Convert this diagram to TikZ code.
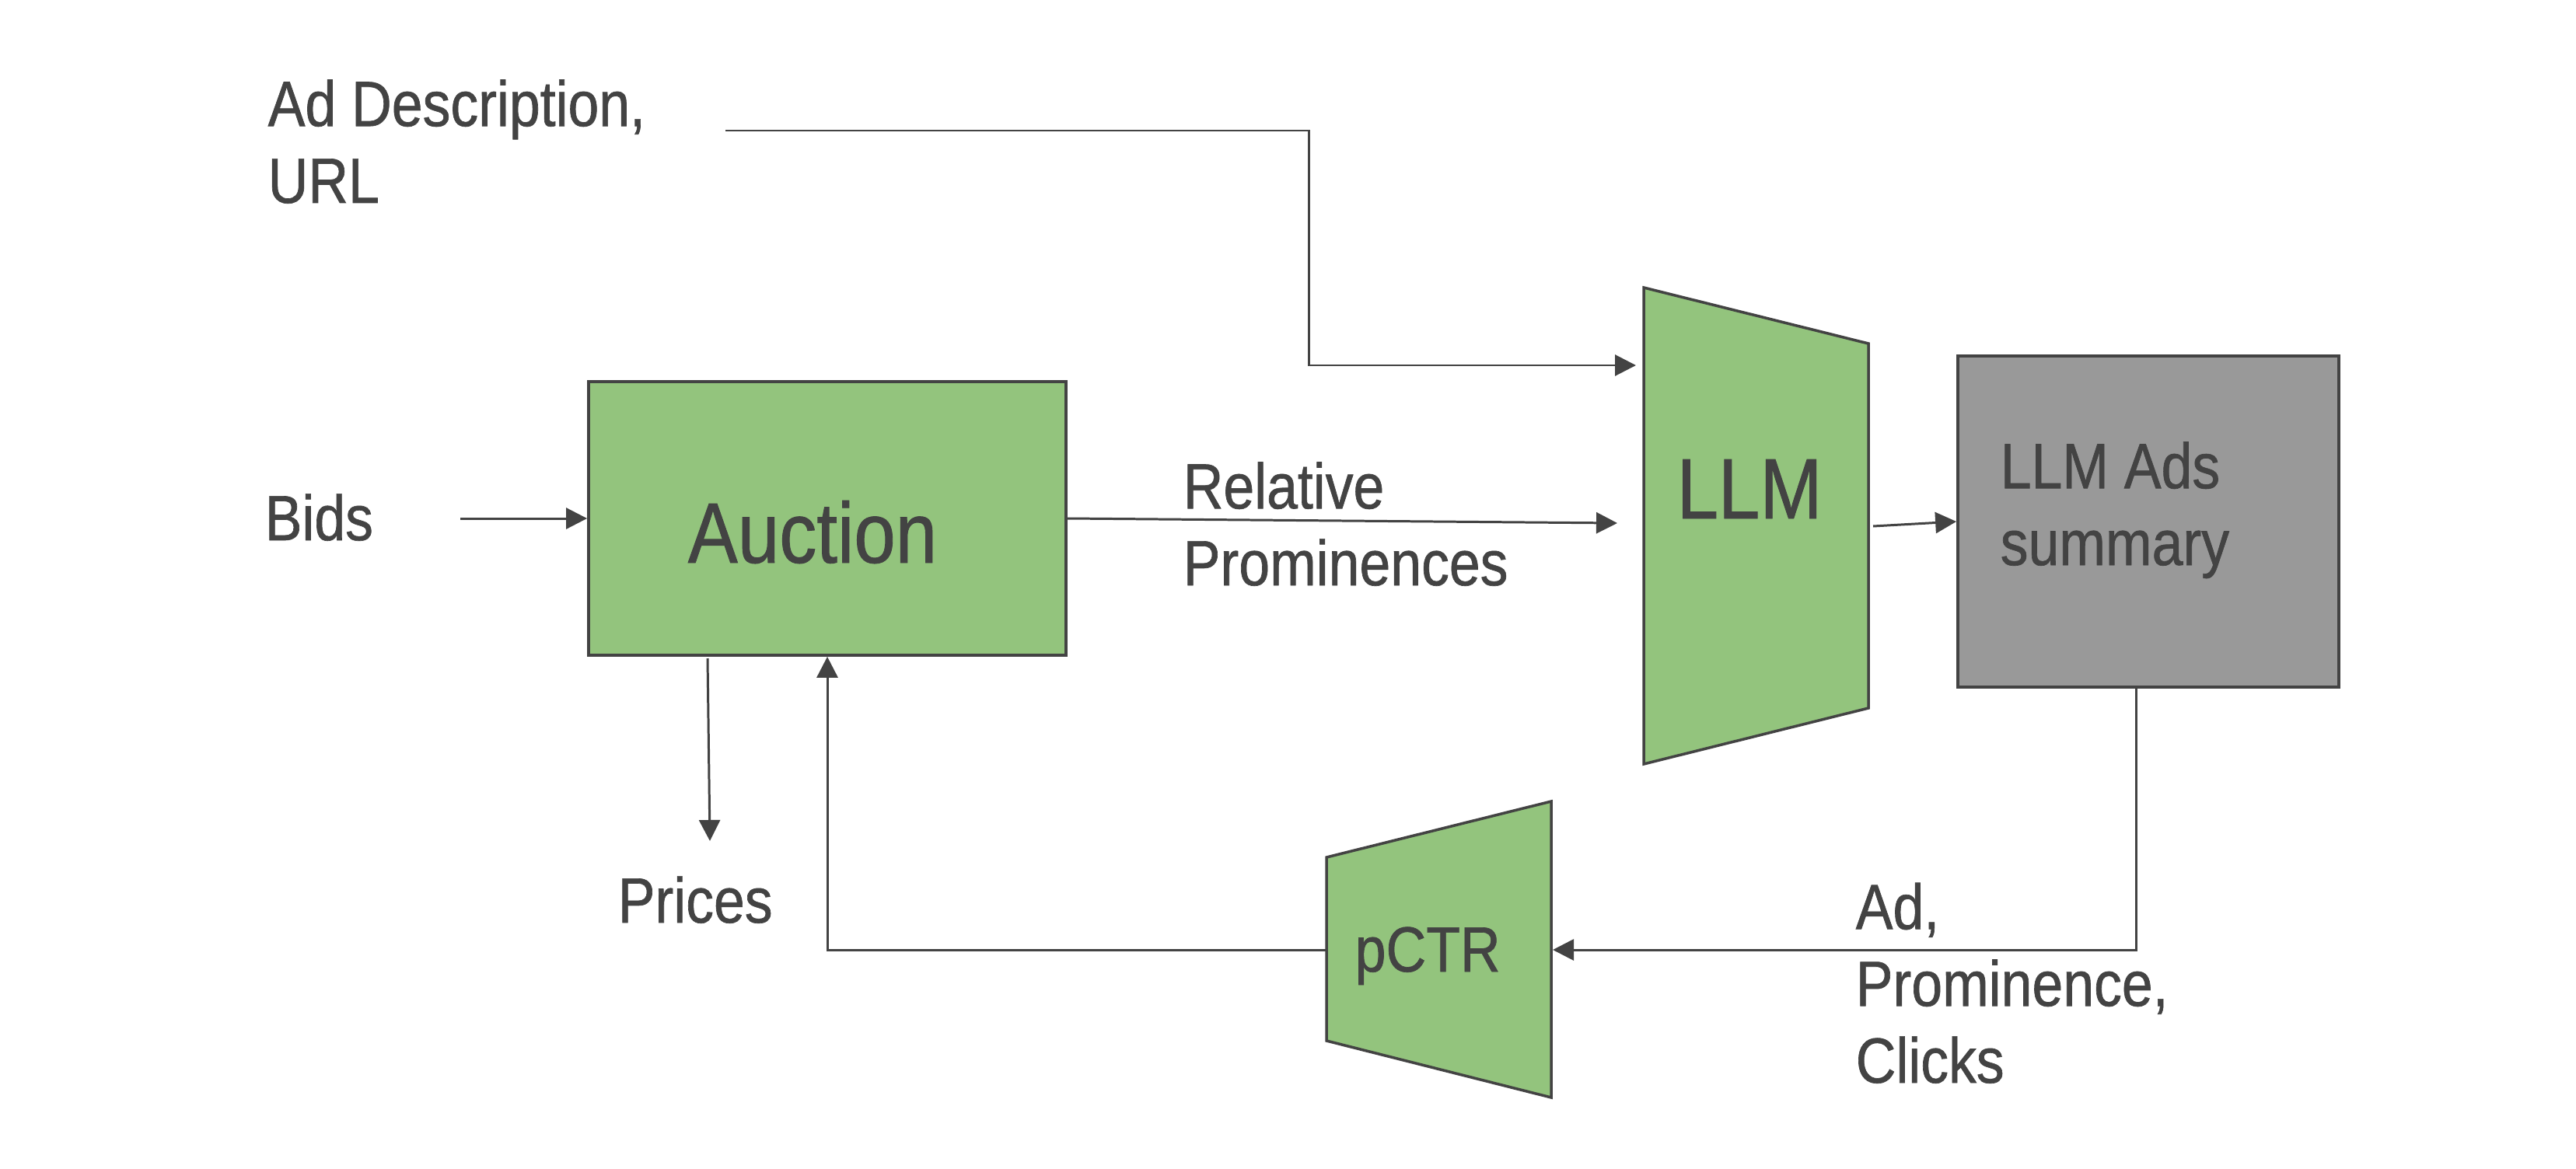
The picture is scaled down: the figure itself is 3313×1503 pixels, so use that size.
\documentclass[tikz,border=0pt]{standalone}
\usepackage{fontspec}
\setmainfont{Liberation Sans}[FakeStretch=0.87,FakeBold=0.8]
\usetikzlibrary{arrows.meta}
\definecolor{ink}{HTML}{434343}
\definecolor{boxgreen}{HTML}{93C47D}
\definecolor{boxgray}{HTML}{999999}
\begin{document}
\begin{tikzpicture}[x=0.01cm,y=-0.01cm,
  conn/.style={draw=ink, line width=0.85pt},
  arr/.style={conn,-{Triangle[length=0.27cm,width=0.27cm]}},
  shapebox/.style={draw=ink, line width=1pt},
  lbl/.style={text=ink, inner sep=0pt, anchor=base west, align=left, font=\fontsize{23.4}{28.1}\selectfont},
  big/.style={text=ink, inner sep=0pt, anchor=base, font=\fontsize{31.4}{36}\selectfont}]
\useasboundingbox (0,0) rectangle (3313,1503);

% blocks
\node[shapebox, fill=boxgreen, minimum width=6.14cm, minimum height=3.52cm, inner sep=0pt] (auction) at (1064,667) {};
\node[big] (auctiontxt) at (1045,724) {Auction};

\draw[shapebox, fill=boxgreen] (2114,370) -- (2403,442) -- (2403,911) -- (2114,983) -- cycle;
\node[big] (llmtxt) at (2250,667) {LLM};

\node[shapebox, fill=boxgray, minimum width=4.9cm, minimum height=4.26cm, inner sep=0pt] (summary) at (2763,671) {};
\node[lbl] (summarytxt) at (2572,727) {LLM Ads\\summary};

\draw[shapebox, fill=boxgreen] (1706,1103) -- (1995,1031) -- (1995,1412) -- (1706,1339) -- cycle;
\node[lbl] (pctrtxt) at (1742,1250) {pCTR};

% labels (anchored at the baseline of the last line)
\node[lbl] (adesc) at (344,261) {Ad Description,\\URL};
\node[lbl] (bids) at (340,695) {Bids};
\node[lbl] (relprom) at (1521,753) {Relative\\Prominences};
\node[lbl] (prices) at (794,1187) {Prices};
\node[lbl] (feedback) at (2386,1393) {Ad,\\Prominence,\\Clicks};

% connector ends
\coordinate (descout) at (933,168);
\coordinate (desccorner) at (1683,470);
\coordinate (llmin1) at (2104,470);
\coordinate (bidsout) at (592,667);
\coordinate (llmin2) at (2080,673);
\coordinate (llmout) at (2409,677);
\coordinate (sumout) at (2747,884);
\coordinate (pctrin) at (1997,1222);
\coordinate (pctrout) at (1706,1222);
\coordinate (auctionprice) at (910,847);
\coordinate (pricesin) at (913,1082);

% connectors
\draw[arr] (descout) -| (desccorner) -- (llmin1);
\draw[arr] (bidsout) -- (auction.west);
\draw[arr] (auction.east) -- (llmin2);
\draw[arr] (llmout) -- (summary.west);
\draw[arr] (sumout) |- (pctrin);
\draw[arr] (pctrout) -| (auction.south);
\draw[arr] (auctionprice) -- (pricesin);
\end{tikzpicture}
\end{document}
